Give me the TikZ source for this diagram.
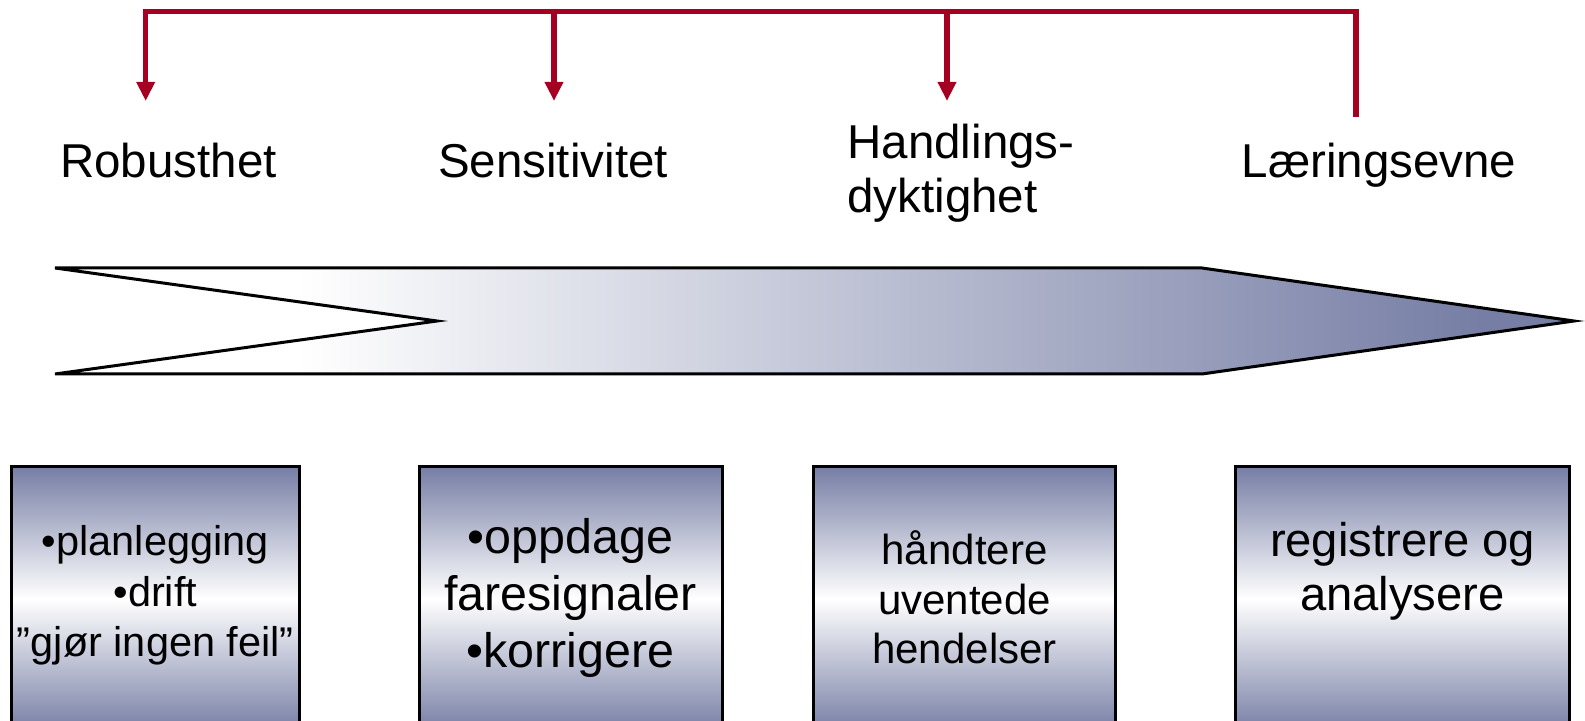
\documentclass[tikz,border=0pt]{standalone}
\usepackage{fontspec}
\setmainfont{Liberation Sans}
\usetikzlibrary{arrows.meta,positioning}
\definecolor{steel}{RGB}{118,126,165}
\definecolor{alarmred}{RGB}{165,0,33}
\pgfdeclarehorizontalshading{chevronfade}{100bp}{color(0bp)=(white); color(33bp)=(white); color(72bp)=(steel); color(100bp)=(steel)}

\begin{document}
\begin{tikzpicture}[x=0.5pt,y=-0.5pt]
		\tikzstyle{LabelStyle} = [inner sep=0pt, font=\fontsize{23.75pt}{27pt}\selectfont]
		\tikzstyle{BoxStyle}   = [draw, line width=1.5pt, inner sep=0pt, anchor=north west, minimum height=132.5pt, top color=steel, bottom color=steel, middle color=white]
		\tikzstyle{BoxText}    = [inner sep=0pt, align=center]
		\tikzstyle{FeedStyle}  = [alarmred, line width=2.75pt, -{Triangle[width=8.8pt,length=9.5pt]}]

		\useasboundingbox (0,0) rectangle (1585,721);
		\clip (0,0) rectangle (1585,721);

		% shaded chevron
		\path[draw, line width=1.5pt, shading=chevronfade]
			(55,268) -- (1202,268) -- (1574,321) -- (1202,374) -- (55,374) -- (437,321) -- cycle;

		\node[LabelStyle, anchor=base] (rob) at (168.4,177.5) {Robusthet};
		\node[LabelStyle, anchor=base] (sens) at (553,177.5) {Sensitivitet};
		\node[LabelStyle, anchor=west, align=left] (hand) at (847,173.5) {Handlings-\\dyktighet};
		\node[LabelStyle, anchor=base] (laer) at (1379,177.5) {Læringsevne};

		% feedback line
		\coordinate (topline) at (0,11.7); \coordinate (fbend) at (1356,117);
		\coordinate (tipR) at (145.7,101); \coordinate (tipS) at (554,101); \coordinate (tipH) at (947,101);
		\draw[FeedStyle] (fbend) |- (topline -| tipR) -- (tipR);
		\draw[FeedStyle] (tipS |- topline) -- (tipS); \draw[FeedStyle] (tipH |- topline) -- (tipH);

		\node[BoxStyle, minimum width=143.85pt] (plan) at (10,465) {};
		\node[BoxStyle, minimum width=151.6pt] (detect) at (417.5,465) {};
		\node[BoxStyle, minimum width=151.3pt] (handle) at (811.7,465) {};
		\node[BoxStyle, minimum width=167pt] (learn) at (1234,465) {};

		\node[BoxText, font=\fontsize{20.75pt}{25.25pt}\selectfont] (plantxt) at ([yshift=1.75pt]plan.center) {•planlegging\\•drift\\”gjør ingen feil”};
		\node[BoxText, font=\fontsize{24.2pt}{28.5pt}\selectfont] (detecttxt) at ([yshift=0.75pt]detect.center) {•oppdage\\faresignaler\\•korrigere};
		\node[BoxText, font=\fontsize{21pt}{24.75pt}\selectfont] (handletxt) at ([yshift=0.75pt]handle.center) {håndtere\\uventede\\hendelser};
		\node[BoxText, font=\fontsize{23.6pt}{26.8pt}\selectfont] (learntxt) at ([yshift=13.75pt]learn.center) {registrere og\\analysere};
	\end{tikzpicture}
\end{document}
